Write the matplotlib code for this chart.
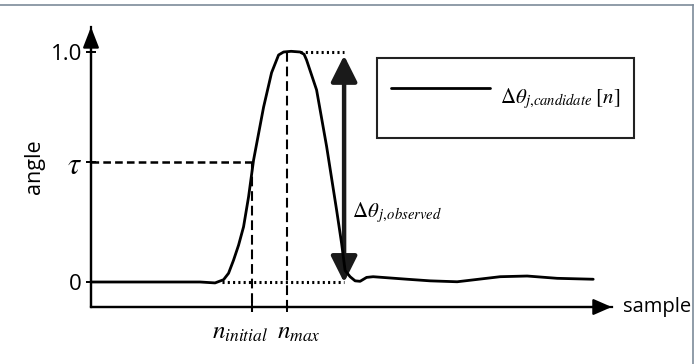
import matplotlib
matplotlib.use("Agg")
import matplotlib.pyplot as plt
from matplotlib.lines import Line2D
from matplotlib.transforms import ScaledTranslation

# ---- data ----
sample_x = [0, 10, 21.8, 24.8, 26.5, 27.5, 28.5, 29.5, 30.5, 31.5, 32.5, 34.5, 36.1, 37.5, 38.5,
            40.0, 41.8, 42.6, 43.1, 45.1, 47.1, 49.1, 50.1, 50.8, 51.8, 52.8, 53.8, 55.1,
            56.4, 63.2, 67.8, 73.2, 81.8, 87.2, 93.2, 100.4]
angle_y = [0, 0, 0, -0.004, 0.01, 0.038, 0.095, 0.16, 0.24, 0.37, 0.53, 0.76, 0.91, 0.987, 1.0,
           1.003, 1.0, 0.99, 0.965, 0.835, 0.59, 0.313, 0.168, 0.05, 0.023, 0.005, 0.003, 0.02,
           0.023, 0.012, 0.005, 0.001, 0.023, 0.026, 0.016, 0.012]
tau = 0.52
n_initial = 32.2
n_max = 39.2
observed_x = 50.6
peak_start = 41.8
rise_start = 26.2
ytick_vals = [0, tau, 1.0]
ytick_labels = ["0", r"$\tau$", "1.0"]
xtick_vals = [n_initial, n_max]
xtick_labels = [r"$n_{initial}$", r"$n_{max}$"]
legend_label = r"$\Delta\theta_{j,\!candidate}\;[n]$"
observed_label = r"$\Delta\theta_{\,j,\!observed}$"
xlabel_text = "sample"
ylabel_text = "angle"

plt.rcParams["mathtext.fontset"] = "stix"
plt.rcParams["lines.scale_dashes"] = False
plt.rcParams["font.family"] = ["Open Sans", "DejaVu Sans"]

W, H = 696, 364
fig = plt.figure(figsize=(W / 100, H / 100), dpi=100)
ax_l, ax_r, ax_t, ax_b = 91, 611.7, 27, 307
ax = fig.add_axes([ax_l / W, 1 - ax_b / H, (ax_r - ax_l) / W, (ax_b - ax_t) / H])
ax.set_xlim(0, 104.1)
ax.set_ylim(-0.1087, 1.1087)

for s in ["top", "right"]:
    ax.spines[s].set_visible(False)
for s in ["left", "bottom"]:
    ax.spines[s].set_linewidth(1.6)

# axis arrows
ax.annotate("", xy=(0, 1), xytext=(0, 0), xycoords="axes fraction",
            arrowprops=dict(arrowstyle="-|>,head_length=0.9,head_width=0.35", lw=1.6,
                            color="black", mutation_scale=14, shrinkA=0, shrinkB=0))
ax.annotate("", xy=(1, 0), xytext=(0, 0), xycoords="axes fraction",
            arrowprops=dict(arrowstyle="-|>,head_length=0.8,head_width=0.35", lw=1.6,
                            color="black", mutation_scale=14, shrinkA=0, shrinkB=0))

# curve
ax.plot(sample_x, angle_y, color="black", lw=2.0, solid_capstyle="round",
        solid_joinstyle="round", label=legend_label, zorder=4)

# guide lines
ax.plot([0, n_initial], [tau, tau], color="black", lw=1.8, dashes=(5.5, 3.0))
ax.plot([n_initial, n_initial], [tau, -0.13], color="black", lw=1.5, dashes=(7, 3.5),
        clip_on=False)
ax.plot([n_max, n_max], [1.0, -0.13], color="black", lw=1.5, dashes=(7, 3.5),
        clip_on=False)
ax.plot([peak_start, observed_x], [1.0, 1.0], color="black", lw=2.2, dashes=(1.5, 2.3))
ax.plot([rise_start, observed_x], [0, 0], color="black", lw=2.2, dashes=(1.5, 2.3))

# double arrow
ax.annotate("", xy=(observed_x, 0.985), xytext=(observed_x, -0.002), xycoords="data",
            arrowprops=dict(arrowstyle="<|-|>,head_length=1.0,head_width=0.5", lw=3.2,
                            color="#1a1a1a", mutation_scale=16, shrinkA=0, shrinkB=0))
ax.text(observed_x + 1.6, 0.30, observed_label, fontsize=15, ha="left", va="center")

# ticks
ax.set_yticks(ytick_vals, labels=ytick_labels)
ax.set_xticks(xtick_vals, labels=xtick_labels)
ax.tick_params(axis="y", direction="inout", length=7, width=1.4, labelsize=16, pad=3)
ax.tick_params(axis="x", direction="inout", length=7, width=1.4, labelsize=18, pad=6)
for lab in ax.get_yticklabels():
    if "tau" in lab.get_text():
        lab.set_fontsize(22)
offsets = [-12, 12]
for lab, off in zip(ax.get_xticklabels(), offsets):
    lab.set_transform(lab.get_transform() + ScaledTranslation(off / 100, 0, fig.dpi_scale_trans))

# axis labels
ax.set_ylabel(ylabel_text, fontsize=15.5, labelpad=4)
ax.annotate(xlabel_text, xy=(1, 0), xycoords="axes fraction", xytext=(11, 0),
            textcoords="offset pixels", fontsize=14.5, ha="left", va="center")

# legend
leg = ax.legend(loc="upper left", bbox_to_anchor=(377 / W, 1 - 58 / H),
                bbox_transform=fig.transFigure, borderaxespad=0, fontsize=15,
                frameon=True, fancybox=False, edgecolor="#222222", framealpha=1,
                handlelength=4.75, handleheight=3.5, handletextpad=0.5, borderpad=0.65)
leg.get_frame().set_linewidth(1.5)

# figure frame (top and right)
frame_c = "#7d8b99"
fig.add_artist(Line2D([0, 692.5 / W], [1 - 5 / H, 1 - 5 / H], transform=fig.transFigure,
                      color=frame_c, lw=1.2))
fig.add_artist(Line2D([692.5 / W, 692.5 / W], [0, 1 - 5 / H], transform=fig.transFigure,
                      color=frame_c, lw=1.2))

fig.savefig("out.png", dpi=100)
